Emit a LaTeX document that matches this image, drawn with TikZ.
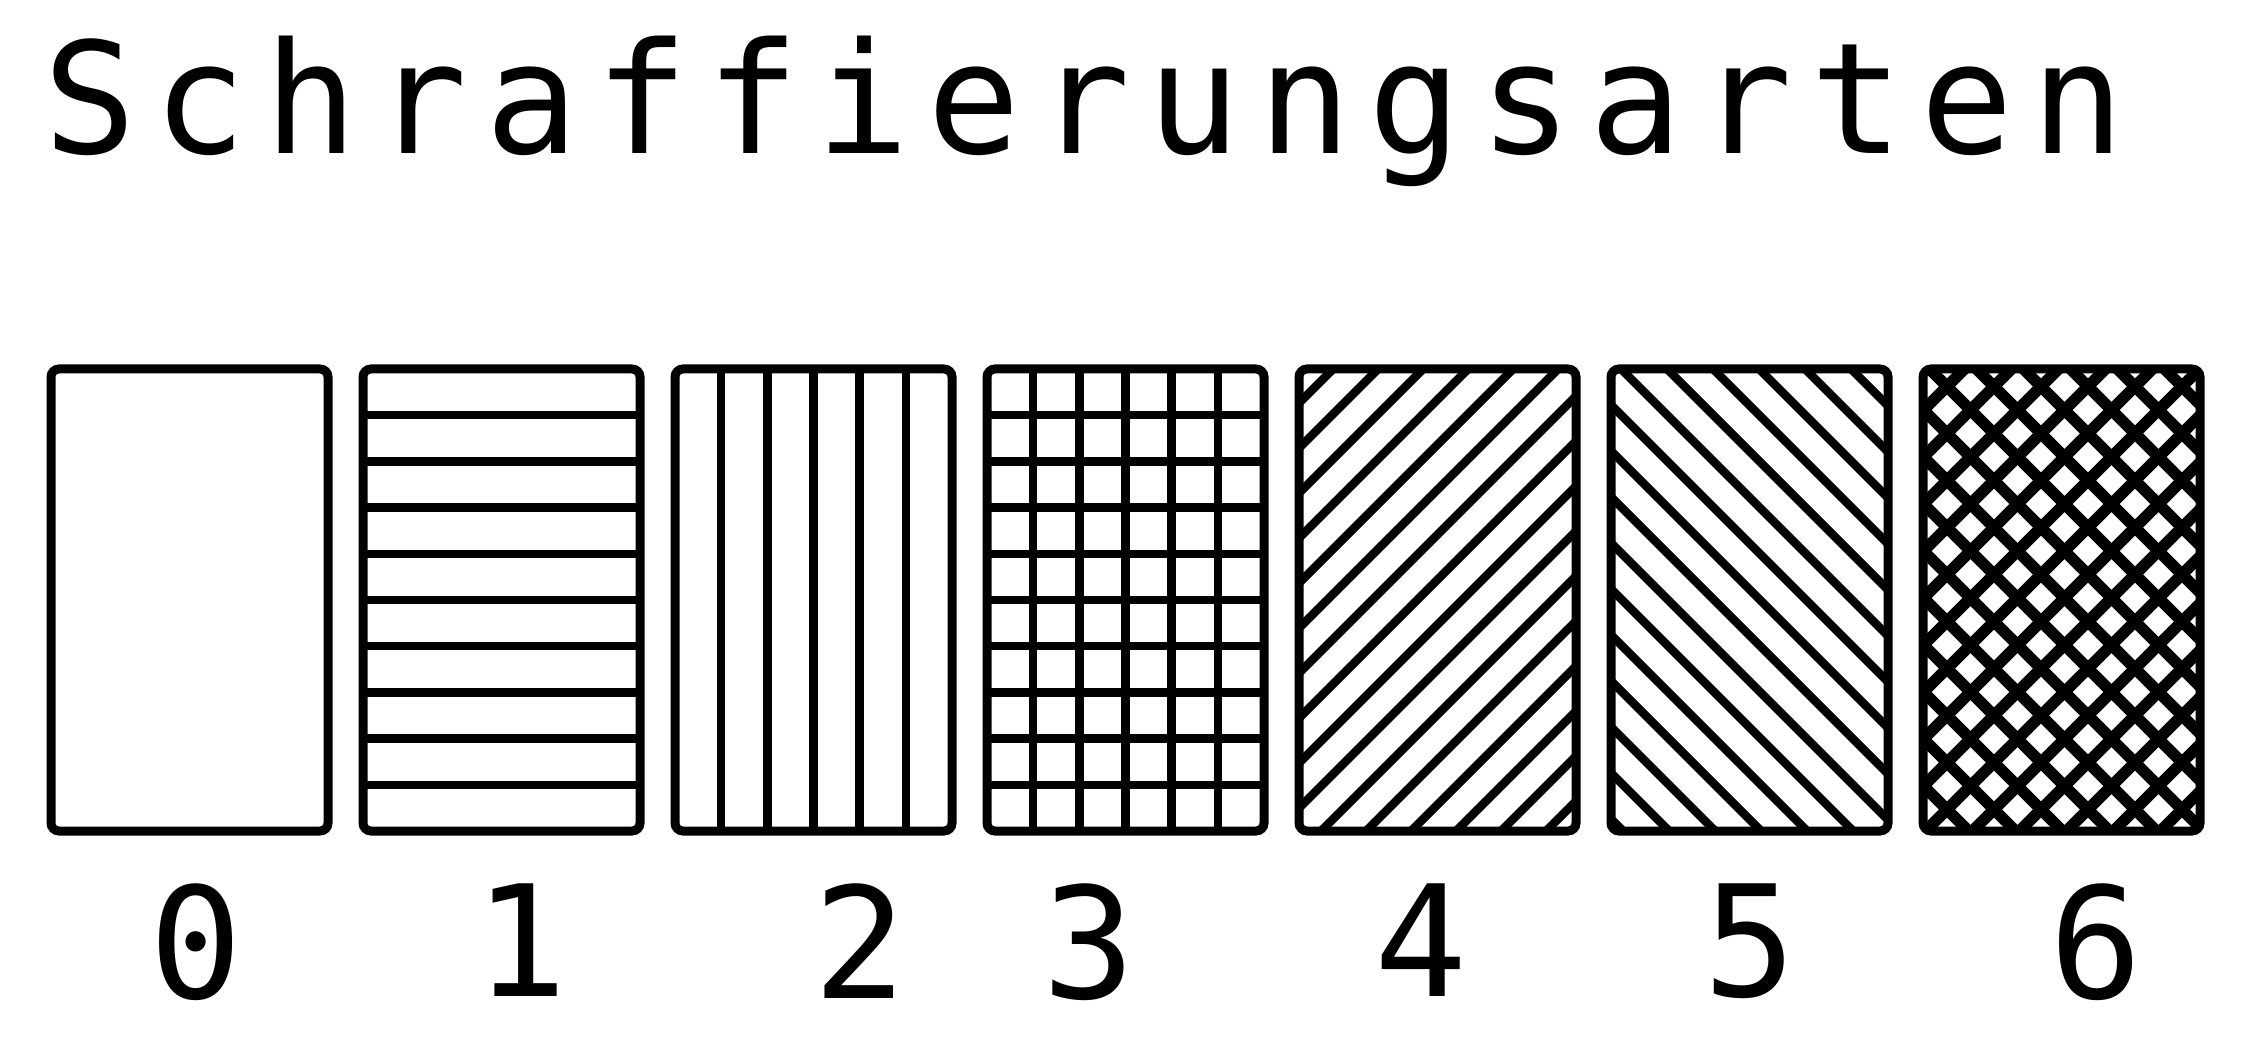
\documentclass[tikz,border=0pt]{standalone}
\usepackage{fontspec}
\newfontfamily\plotfont[LetterSpace=11.2]{DejaVu Sans Mono}
\newfontfamily\digitfont{DejaVu Sans Mono}
\usetikzlibrary{positioning}

\begin{document}
\begin{tikzpicture}[
        swatch/.style={
            draw,
            line width=0.9mm,
            rounded corners=0.8mm,
            inner sep=0pt,
            outer sep=0pt,
            minimum width=2.77cm,
            minimum height=4.62cm
        },
        hatch/.style={
            line width=0.85mm
        },
        crosshatch/.style={
            line width=1.15mm
        },
        heading/.style={
            font=\plotfont\fontsize{44pt}{44pt}\selectfont,
            inner sep=0pt,
            anchor=base west
        },
        digit/.style={
            font=\digitfont\fontsize{44pt}{44pt}\selectfont,
            inner sep=0pt
        },
        node distance=3.5mm
    ]

        \useasboundingbox (0,0) rectangle (22.41,10.56);

        \node[heading] (title) at (0.43,9.02) {Schraffierungsarten};

        \node[swatch] (sw0) at (1.895,4.56) {};
        \node[swatch, right=of sw0] (sw1) {};
        \node[swatch, right=of sw1] (sw2) {};
        \node[swatch, right=of sw2] (sw3) {};
        \node[swatch, right=of sw3] (sw4) {};
        \node[swatch, right=of sw4] (sw5) {};
        \node[swatch, right=of sw5] (sw6) {};

        % 1: horizontal
        \foreach \k in {1,...,9}
            \draw[hatch] ([yshift=-\k*4.62mm]sw1.north west)
                -- ([yshift=-\k*4.62mm]sw1.north east);

        % 2: vertical
        \foreach \k in {1,...,5}
            \draw[hatch] ([xshift=\k*4.617mm]sw2.north west)
                -- ([xshift=\k*4.617mm]sw2.south west);

        % 3: grid
        \foreach \k in {1,...,9}
            \draw[hatch] ([yshift=-\k*4.62mm]sw3.north west)
                -- ([yshift=-\k*4.62mm]sw3.north east);
        \foreach \k in {1,...,5}
            \draw[hatch] ([xshift=\k*4.617mm]sw3.north west)
                -- ([xshift=\k*4.617mm]sw3.south west);

        % 4: rising diagonals
        \begin{scope}
            \clip (sw4.south west) rectangle (sw4.north east);
            \foreach \k in {0,...,15}
                \draw[hatch] ([yshift=-3.4mm-\k*4.5mm]sw4.north west) -- ++(6,6);
        \end{scope}

        % 5: falling diagonals
        \begin{scope}
            \clip (sw5.south west) rectangle (sw5.north east);
            \foreach \k in {-10,...,5}
                \draw[hatch] ([xshift=1mm+\k*4.6mm]sw5.north west) -- ++(6,-6);
        \end{scope}

        % 6: cross hatch
        \begin{scope}
            \clip (sw6.south west) rectangle (sw6.north east);
            \foreach \k in {-1,...,14}
                \draw[crosshatch] ([yshift=-4.15mm-\k*4.7mm]sw6.north west) -- ++(6,6);
            \foreach \k in {-10,...,5}
                \draw[crosshatch] ([xshift=0.65mm+\k*4.7mm]sw6.north west) -- ++(6,-6);
        \end{scope}

        \node[digit, below=5.2mm of sw0, xshift=0.65mm] (n0) {0};
        \node[digit, below=5.2mm of sw1, xshift=1.95mm] (n1) {1};
        \node[digit, below=5.2mm of sw2, xshift=4.65mm] (n2) {2};
        \node[digit, below=5.2mm of sw3, xshift=-3.65mm] (n3) {3};
        \node[digit, below=5.2mm of sw4, xshift=-1.65mm] (n4) {4};
        \node[digit, below=5.2mm of sw5, xshift=0.05mm] (n5) {5};
        \node[digit, below=5.2mm of sw6, xshift=3.45mm] (n6) {6};

    \end{tikzpicture}
\end{document}
